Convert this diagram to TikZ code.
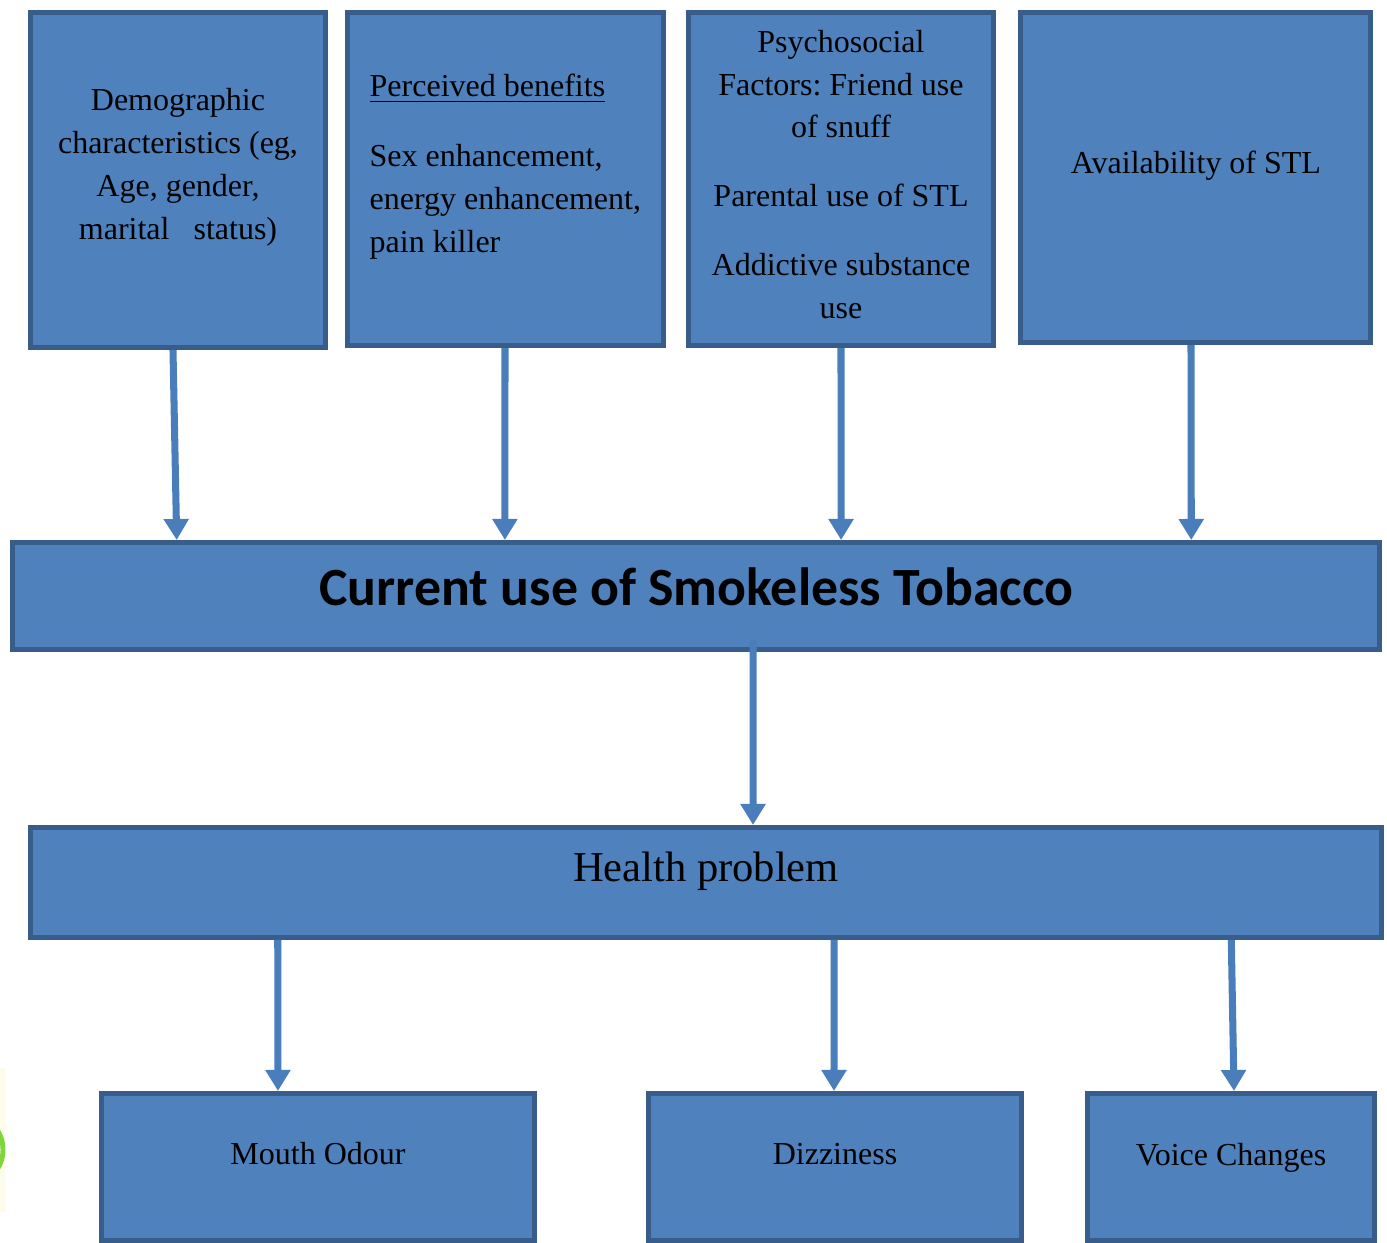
\documentclass[tikz,border=0pt]{standalone}
\usepackage{fontspec}
\setmainfont{Liberation Serif}
\newfontfamily\calibrifont{Carlito}
\usetikzlibrary{arrows.meta, positioning}

\definecolor{boxfill}{HTML}{4F81BD}
\definecolor{boxline}{HTML}{385D8A}
\definecolor{arrblue}{HTML}{4A7EBB}
\definecolor{edgegreen}{HTML}{7FD63A}
\definecolor{edgecream}{HTML}{FDFBEA}

\frenchspacing

\begin{document}
\begin{tikzpicture}[
    x=0.01cm, y=-0.01cm,
    box/.style={
        draw=boxline, line width=1.4pt, fill=boxfill,
        rectangle, inner sep=0pt
    },
    txt/.style={
        font=\fontsize{9.1pt}{12.2pt}\selectfont, align=center, inner sep=0pt
    },
    arr/.style={-{Triangle[width=0.24cm, length=0.21cm]}, line width=2pt, draw=arrblue}
]
\useasboundingbox (0,0) rectangle (1387,1243);

% stray mark on the left edge
\fill[edgecream] (0,1068) rectangle (5,1212);
\draw[edgegreen, line width=1.4pt] (-19.5,1115) arc[start angle=60, end angle=-60, x radius=0.45cm, y radius=0.4cm];

% factors
\node[box, minimum width=2.95cm, minimum height=3.35cm] (demo)  at (178,180) {};
\node[box, minimum width=3.16cm, minimum height=3.33cm] (benef) at (505.5,179) {};
\node[box, minimum width=3.05cm, minimum height=3.33cm] (psych) at (841,179) {};
\node[box, minimum width=3.50cm, minimum height=3.30cm] (avail) at (1195.5,177.5) {};

\node[txt] (demotxt) at (178,167) {Demographic\\characteristics (eg,\\Age, gender,\\marital\ \ \ status)};
\node[txt, align=left, anchor=west] (beneftxt) at (369,166.5) {\underline{Perceived benefits}\\[0.27cm]Sex enhancement,\\energy enhancement,\\pain killer};
\node[txt] (psychtxt) at (841,174.5) {Psychosocial\\Factors: Friend use\\of snuff\\[0.26cm]Parental use of STL\\[0.26cm]Addictive substance\\use};
\node[txt] (availtxt) at (1196,166) {Availability of STL};

% main
\node[box, minimum width=13.67cm, minimum height=1.07cm] (stl) at (696,596) {};
\node[font=\calibrifont\bfseries\fontsize{15.3pt}{18pt}\selectfont, inner sep=0pt] (stltxt) at (696.5,586.5) {Current use of Smokeless Tobacco};

\node[box, minimum width=13.51cm, minimum height=1.10cm] (health) at (706,882.5) {};
\node[font=\fontsize{12.1pt}{14pt}\selectfont, inner sep=0pt] (healthtxt) at (706,871) {Health problem};

% effects
\node[box, minimum width=4.33cm, minimum height=1.47cm] (mouth) at (318,1167) {};
\node[box, minimum width=3.73cm, minimum height=1.47cm] (dizzy) at (835,1167) {};
\node[box, minimum width=2.87cm, minimum height=1.47cm] (voice) at (1231,1167) {};

\node[txt] (mouthtxt) at (318,1154) {Mouth Odour};
\node[txt] (dizzytxt) at (835,1154) {Dizziness};
\node[txt] (voicetxt) at (1231,1158) {Voice Changes};

\draw[arr] ([xshift=-0.05cm]demo.south)  -- ([xshift=-5.19cm]stl.north);
\draw[arr] ([xshift=-0.005cm]benef.south) -- ([xshift=-1.91cm]stl.north);
\draw[arr] (psych.south) -- ([xshift=1.45cm]stl.north);
\draw[arr] ([xshift=-0.045cm]avail.south) -- ([xshift=4.95cm]stl.north);
\draw[arr] ([xshift=0.57cm, yshift=0.12cm]stl.south) -- ([xshift=0.47cm]health.north);
\draw[arr] ([xshift=-4.28cm]health.south) -- ([xshift=-0.40cm]mouth.north);
\draw[arr] ([xshift=1.28cm]health.south) -- ([xshift=-0.01cm]dizzy.north);
\draw[arr] ([xshift=5.25cm]health.south) -- ([xshift=0.03cm]voice.north);

\end{tikzpicture}
\end{document}
